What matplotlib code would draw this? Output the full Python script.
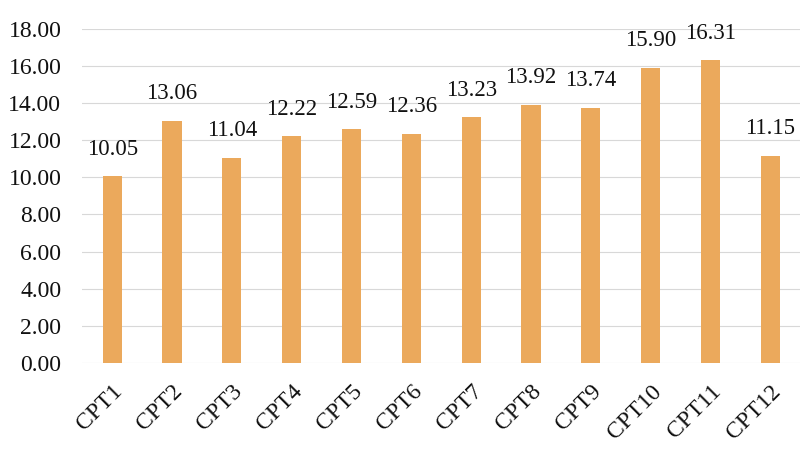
import matplotlib.pyplot as plt
import matplotlib.transforms as mtransforms
from matplotlib.ticker import FormatStrFormatter

labels = ["CPT1", "CPT2", "CPT3", "CPT4", "CPT5", "CPT6",
          "CPT7", "CPT8", "CPT9", "CPT10", "CPT11", "CPT12"]
values = [10.05, 13.06, 11.04, 12.22, 12.59, 12.36,
          13.23, 13.92, 13.74, 15.90, 16.31, 11.15]

plt.rcParams['font.family'] = ['Liberation Serif', 'DejaVu Serif']

fig = plt.figure(figsize=(8.06, 4.53), dpi=100)
ax = fig.add_axes([0.102, 0.199, 0.891, 0.737])

x = range(len(labels))
ax.bar(x, values, width=0.32, color='#EBA95C', zorder=2)

# value labels above each bar
for xi, v in zip(x, values):
    ax.annotate(f"{v:.2f}", (xi, v), xytext=(0, 12), textcoords='offset points',
                ha='center', va='bottom', fontsize=16.5, color='#111111')

ax.set_xlim(-0.5, len(labels) - 0.5)
ax.set_ylim(0, 18)
ax.set_yticks(range(0, 19, 2))
ax.yaxis.set_major_formatter(FormatStrFormatter('%.2f'))
ax.grid(axis='y', color='#d8d8d8', linewidth=0.8, zorder=0)

ax.set_xticks(list(x))
ax.set_xticklabels(labels, rotation=45, ha='right', va='top', rotation_mode='anchor')
offset = mtransforms.ScaledTranslation(4 / 72, 0, fig.dpi_scale_trans)
for lbl in ax.get_xticklabels():
    lbl.set_transform(lbl.get_transform() + offset)

ax.tick_params(axis='both', length=0, labelsize=17, colors='#111111')
ax.tick_params(axis='y', pad=15)
ax.tick_params(axis='x', pad=13)
for s in ax.spines.values():
    s.set_visible(False)

fig.savefig('out.png', dpi=100)
